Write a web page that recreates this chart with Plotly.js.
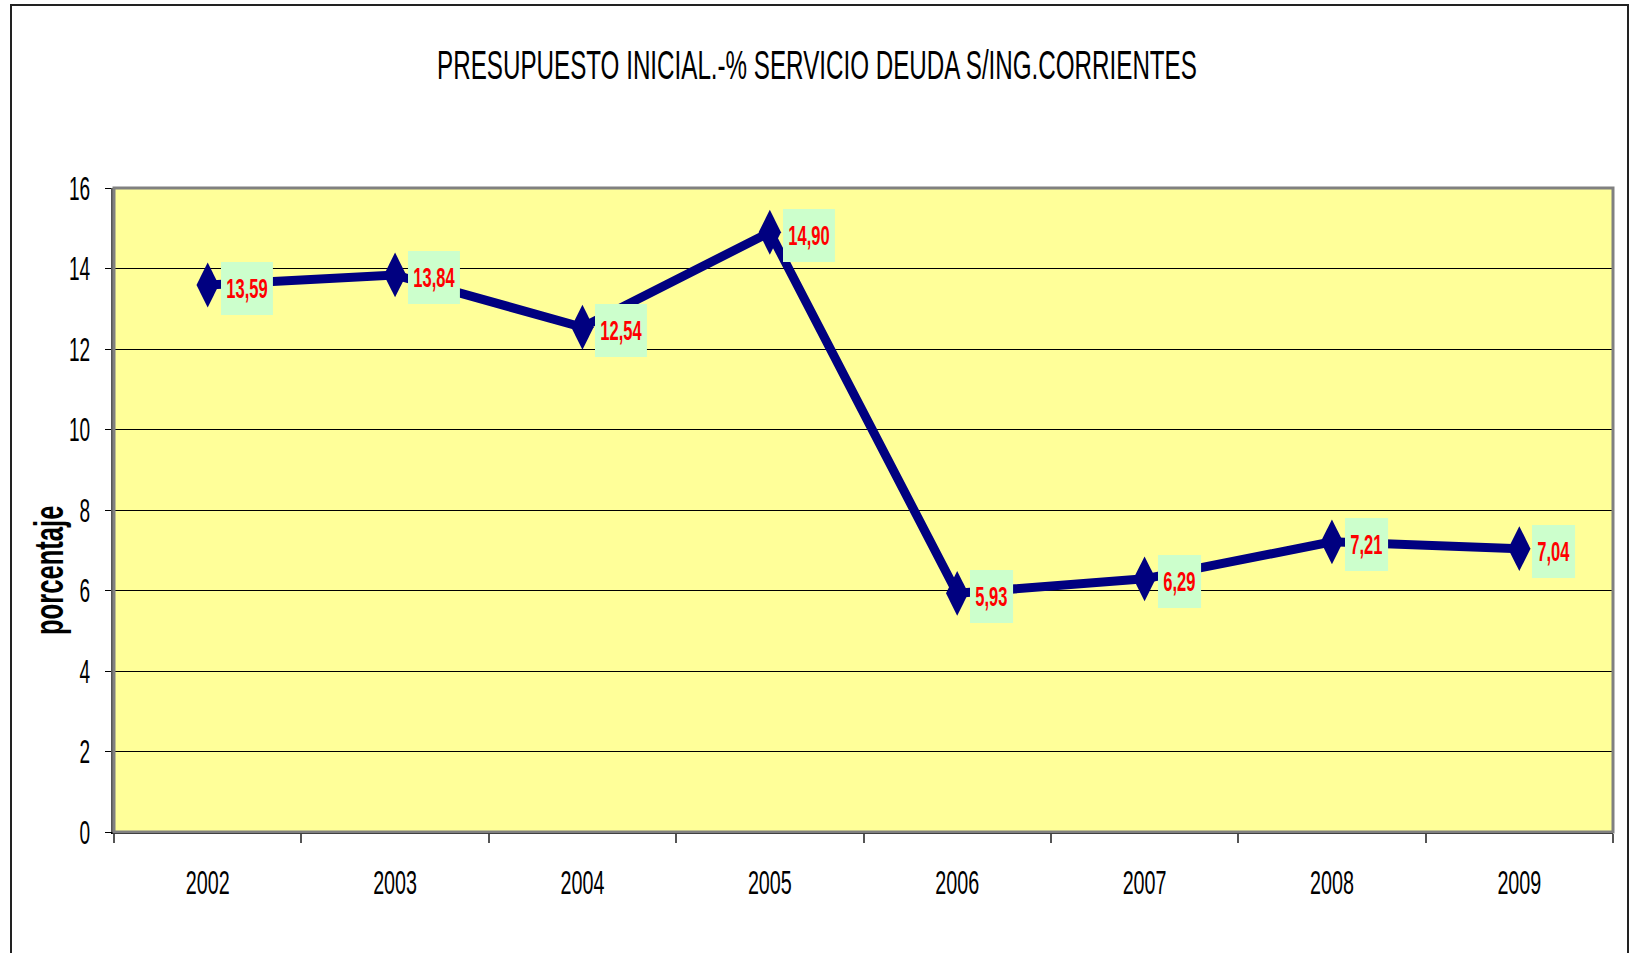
<!DOCTYPE html>
<html>
<head>
<meta charset="utf-8">
<script src="https://cdn.plot.ly/plotly-3.0.1.min.js"></script>
<style>
  html, body { margin: 0; padding: 0; background: #ffffff; }
  #wrap { position: relative; width: 1634px; height: 953px; overflow: hidden; }
  #chart { position: absolute; left: 0; top: 0; width: 1634px; height: 953px; }
  #frame { position: absolute; left: 10px; top: 4px; width: 1619px; height: 980px;
           border: 2px solid #222; box-sizing: border-box; pointer-events: none; }
</style>
</head>
<body>
<div id="wrap">
  <div id="chart"></div>
  <div id="frame"></div>
</div>
<script>
// ---- data ----
const years = ['2002', '2003', '2004', '2005', '2006', '2007', '2008', '2009'];
const servicioDeuda = [13.59, 13.84, 12.54, 14.90, 5.93, 6.29, 7.21, 7.04];
const yTicks = [0, 2, 4, 6, 8, 10, 12, 14, 16];
const chartTitle = 'PRESUPUESTO INICIAL.-% SERVICIO DEUDA S/ING.CORRIENTES';
const yTitle = 'porcentaje';

const fmt = v => v.toFixed(2).replace('.', ',');
const FONT = 'Liberation Sans, Arial, sans-serif';

const trace = {
  type: 'scatter',
  mode: 'lines+markers',
  x: years,
  y: servicioDeuda,
  line: { color: '#000080', width: 9 },
  marker: { symbol: 'diamond-tall', size: 32, color: '#000080', line: { width: 0 } },
  hoverinfo: 'none',
  cliponaxis: false
};

// category index i is the position of years[i] on the category axis
const labelAnns = years.map((yr, i) => ({
  x: i, y: servicioDeuda[i], xref: 'x', yref: 'y',
  text: '<b>' + fmt(servicioDeuda[i]) + '</b>',
  showarrow: false,
  xanchor: 'left', yanchor: 'middle',
  xshift: 13, yshift: -3,
  bgcolor: '#CCFFCC',
  borderpad: 9, borderwidth: 0,
  height: 35,
  font: { family: FONT, size: 28, color: '#FF0000' }
}));

const yTitleAnn = {
  x: -0.0437, y: 0.407, xref: 'paper', yref: 'paper',
  text: '<b>' + yTitle + '</b>',
  showarrow: false, textangle: -90,
  xanchor: 'center', yanchor: 'middle',
  font: { family: FONT, size: 40, color: '#000000' }
};

const layout = {
  width: 1634, height: 953,
  margin: { l: 114, r: 21, t: 188, b: 121 },
  paper_bgcolor: '#ffffff',
  plot_bgcolor: '#FFFF99',
  showlegend: false,
  title: {
    text: chartTitle,
    x: 0.5, xref: 'container', xanchor: 'center',
    y: 1 - 65 / 953, yref: 'container', yanchor: 'middle',
    font: { family: FONT, size: 41, color: '#000000' }
  },
  xaxis: {
    type: 'category',
    range: [-0.5, 7.5],
    showgrid: false,
    showline: true, linecolor: '#000000', linewidth: 2,
    ticks: 'outside', tickson: 'boundaries', ticklen: 9, tickcolor: '#555555', tickwidth: 2,
    ticklabelstandoff: 19,
    tickfont: { family: FONT, size: 34, color: '#000000' },
    zeroline: false, fixedrange: true
  },
  yaxis: {
    range: [0, 16],
    tickvals: yTicks,
    ticktext: yTicks.map(String),
    showgrid: true, gridcolor: '#000000', gridwidth: 1,
    showline: true, linecolor: '#555555', linewidth: 3,
    ticks: 'outside', ticklen: 6, tickcolor: '#000000', tickwidth: 1,
    ticklabelstandoff: 8,
    tickfont: { family: FONT, size: 34, color: '#000000' },
    zeroline: false, fixedrange: true
  },
  shapes: [{
    type: 'rect', xref: 'paper', yref: 'paper', x0: 0, x1: 1, y0: 0, y1: 1,
    line: { color: '#808080', width: 3 }, layer: 'above'
  }],
  annotations: labelAnns.concat([yTitleAnn])
};

function squeeze(el, sx, anchor) {
  const b = el.getBBox();
  const ax = anchor === 'start' ? b.x : (anchor === 'end' ? b.x + b.width : b.x + b.width / 2);
  const tr = el.getAttribute('transform') || '';
  el.setAttribute('transform', tr + ' translate(' + ax + ',0) scale(' + sx + ',1) translate(' + (-ax) + ',0)');
}

Plotly.newPlot('chart', [trace], layout, { displayModeBar: false, staticPlot: true }).then(() => {
  const root = document.getElementById('chart');
  root.querySelectorAll('.gtitle').forEach(t => squeeze(t, 0.59, 'middle'));
  root.querySelectorAll('.xtick text').forEach(t => squeeze(t, 0.58, 'middle'));
  root.querySelectorAll('.ytick text').forEach(t => squeeze(t, 0.56, 'end'));
  root.querySelectorAll('.annotation').forEach(a => {
    const idx = parseInt(a.getAttribute('data-index'), 10);
    const inner = a.querySelector('.annotation-text-g > g');
    if (!inner) return;
    if (idx < years.length) squeeze(inner, 0.59, 'start');
    else squeeze(inner, 0.64, 'middle');
  });
});
</script>
</body>
</html>
